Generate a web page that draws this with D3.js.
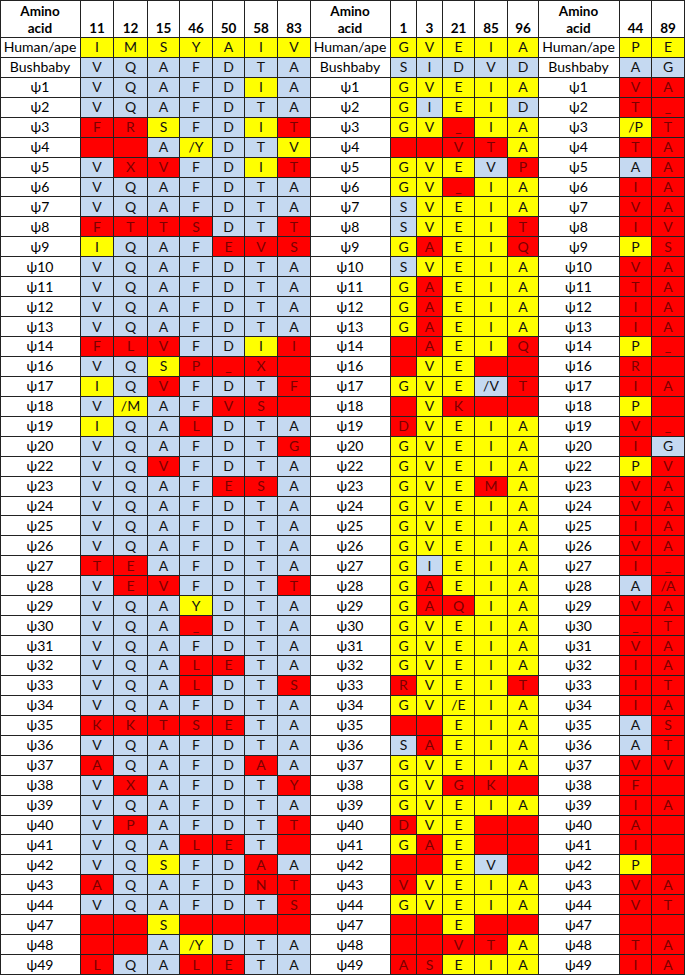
<!DOCTYPE html>
<html lang="en">
<head>
<meta charset="utf-8">
<script type="text/javascript" src="https://cdn.jsdelivr.net/npm/d3@7/dist/d3.min.js"></script>
<style>
body { margin:0; background:#fff; }
svg { display:block; }
rect.cell { stroke:#222; stroke-width:1; shape-rendering:crispEdges; }
text { font-family: Lato, "Open Sans", "DejaVu Sans", sans-serif; font-size:14px; }
text.head { font-weight:bold; font-size:13.5px; }
</style>
<script>

// column headers (amino acid positions) per block
var block1Cols = ["11","12","15","46","50","58","83"];
var block2Cols = ["1","3","21","85","96"];
var block3Cols = ["44","89"];

var rowLabels = ["Human/ape","Bushbaby",
	"ψ1","ψ2","ψ3","ψ4","ψ5","ψ6","ψ7","ψ8","ψ9","ψ10","ψ11","ψ12","ψ13","ψ14",
	"ψ16","ψ17","ψ18","ψ19","ψ20","ψ22","ψ23","ψ24","ψ25","ψ26","ψ27","ψ28","ψ29",
	"ψ30","ψ31","ψ32","ψ33","ψ34","ψ35","ψ36","ψ37","ψ38","ψ39","ψ40","ψ41","ψ42",
	"ψ43","ψ44","ψ47","ψ48","ψ49"];

// residue:state  (y = human-like, b = bushbaby-like, r = other / missing)
var block1Cells = [
	"I:y M:y S:y Y:y A:y I:y V:y",
	"V:b Q:b A:b F:b D:b T:b A:b",
	"V:b Q:b A:b F:b D:b I:y A:b",
	"V:b Q:b A:b F:b D:b T:b A:b",
	"F:r R:r S:y F:b D:b I:y T:r",
	":r :r A:b /Y:y D:b T:b V:y",
	"V:b X:r V:r F:b D:b I:y T:r",
	"V:b Q:b A:b F:b D:b T:b A:b",
	"V:b Q:b A:b F:b D:b T:b A:b",
	"F:r T:r T:r S:r D:b T:b T:r",
	"I:y Q:b A:b F:b E:r V:r S:r",
	"V:b Q:b A:b F:b D:b T:b A:b",
	"V:b Q:b A:b F:b D:b T:b A:b",
	"V:b Q:b A:b F:b D:b T:b A:b",
	"V:b Q:b A:b F:b D:b T:b A:b",
	"F:r L:r V:r F:b D:b I:y I:r",
	"V:b Q:b S:y P:r _:r X:r :r",
	"I:y Q:b V:r F:b D:b T:b F:r",
	"V:b /M:y A:b F:b V:r S:r :r",
	"I:y Q:b A:b L:r D:b T:b A:b",
	"V:b Q:b A:b F:b D:b T:b G:r",
	"V:b Q:b V:r F:b D:b T:b A:b",
	"V:b Q:b A:b F:b E:r S:r A:b",
	"V:b Q:b A:b F:b D:b T:b A:b",
	"V:b Q:b A:b F:b D:b T:b A:b",
	"V:b Q:b A:b F:b D:b T:b A:b",
	"T:r E:r A:b F:b D:b T:b A:b",
	"V:b E:r V:r F:b D:b T:b T:r",
	"V:b Q:b A:b Y:y D:b T:b A:b",
	"V:b Q:b A:b _:r D:b T:b A:b",
	"V:b Q:b A:b F:b D:b T:b A:b",
	"V:b Q:b A:b L:r E:r T:b A:b",
	"V:b Q:b A:b L:r D:b T:b S:r",
	"V:b Q:b A:b F:b D:b T:b A:b",
	"K:r K:r T:r S:r E:r T:b A:b",
	"V:b Q:b A:b F:b D:b T:b A:b",
	"A:r Q:b A:b F:b D:b A:r A:b",
	"V:b X:r A:b F:b D:b T:b Y:r",
	"V:b Q:b A:b F:b D:b T:b A:b",
	"V:b P:r A:b F:b D:b T:b T:r",
	"V:b Q:b A:b L:r E:r T:b :r",
	"V:b Q:b S:y F:b D:b A:r A:b",
	"A:r Q:b A:b F:b D:b N:r T:r",
	"V:b Q:b A:b F:b D:b T:b S:r",
	":r :r S:y :r :r :r :r",
	":r :r A:b /Y:y D:b T:b A:b",
	"L:r Q:b A:b L:r E:r T:b A:b"
];

var block2Cells = [
	"G:y V:y E:y I:y A:y",
	"S:b I:b D:b V:b D:b",
	"G:y V:y E:y I:y A:y",
	"G:y I:b E:y I:y D:b",
	"G:y V:y _:r I:y A:y",
	":r :r V:r T:r A:y",
	"G:y V:y E:y V:b P:r",
	"G:y V:y _:r I:y A:y",
	"S:b V:y E:y I:y A:y",
	"S:b V:y E:y I:y T:r",
	"G:y A:r E:y I:y Q:r",
	"S:b V:y E:y I:y A:y",
	"G:y A:r E:y I:y A:y",
	"G:y A:r E:y I:y A:y",
	"G:y A:r E:y I:y A:y",
	":r A:r E:y I:y Q:r",
	":r V:y E:y :r :r",
	"G:y V:y E:y /V:b T:r",
	":r V:y K:r :r :r",
	"D:r V:y E:y I:y A:y",
	"G:y V:y E:y I:y A:y",
	"G:y V:y E:y I:y A:y",
	"G:y V:y E:y M:r A:y",
	"G:y V:y E:y I:y A:y",
	"G:y V:y E:y I:y A:y",
	"G:y V:y E:y I:y A:y",
	"G:y I:b E:y I:y A:y",
	"G:y A:r E:y I:y A:y",
	"G:y A:r Q:r I:y A:y",
	"G:y V:y E:y I:y A:y",
	"G:y V:y E:y I:y A:y",
	"G:y V:y E:y I:y A:y",
	"R:r V:y E:y I:y T:r",
	"G:y V:y /E:y I:y A:y",
	":r :r E:y I:y A:y",
	"S:b A:r E:y I:y A:y",
	"G:y V:y E:y I:y A:y",
	"G:y V:y G:r K:r :r",
	"G:y V:y E:y I:y A:y",
	"D:r V:y E:y :r :r",
	"G:y A:r E:y :r :r",
	":r :r E:y V:b :r",
	"V:r V:y E:y I:y A:y",
	"G:y V:y E:y I:y A:y",
	":r :r E:y :r :r",
	":r :r V:r T:r A:y",
	"A:r S:r E:y I:y A:y"
];

var block3Cells = [
	"P:y E:y", "A:b G:b",
	"V:r A:r", "T:r _:r", "/P:y T:r", "T:r A:r", "A:b A:r", "I:r A:r", "V:r A:r",
	"I:r V:r", "P:y S:r", "V:r A:r", "T:r A:r", "I:r A:r", "I:r A:r", "P:y _:r",
	"R:r :r", "I:r A:r", "P:y :r", "V:r _:r", "I:r G:b", "P:y V:r", "V:r A:r",
	"V:r A:r", "I:r A:r", "V:r A:r", "I:r _:r", "A:b /A:r", "V:r A:r", "_:r T:r",
	"V:r A:r", "I:r A:r", "I:r T:r", "I:r A:r", "A:b S:r", "A:b T:r", "V:r V:r",
	"F:r :r", "I:r A:r", "A:r :r", "I:r :r", "P:y :r", "V:r A:r", "V:r T:r",
	":r :r", "T:r A:r", "I:r A:r"
];

var W = 685, H = 975, headH = 37;

// layout: block label column width + value column widths
var blocks = [
	{cols: block1Cols, cells: block1Cells, labelW: 80, colW: [33,34,32,33,32,33,33]},
	{cols: block2Cols, cells: block2Cells, labelW: 80, colW: [26,26,32,33,31]},
	{cols: block3Cols, cells: block3Cells, labelW: 81, colW: [32,33]}
];

var fill = d3.scaleOrdinal().domain(["y","b","r"]).range(["#ffff00","#c5d9f1","#ff0000"]);
var ink = d3.scaleOrdinal().domain(["y","b","r"]).range(["#111","#111","#7a0000"]);

function doChart(){
	var svg = d3.select("#chart").attr("width", W).attr("height", H);

	var y = d3.scaleBand().domain(rowLabels).range([headH, H - 1]);

	var x0 = 0;
	blocks.forEach(function(b){
		var keys = ["label"].concat(b.cols);
		var widths = [b.labelW].concat(b.colW);
		var starts = [x0].concat(Array.from(d3.cumsum(widths)).map(function(s){return x0 + s;}));
		var x = d3.scaleOrdinal().domain(keys).range(starts);
		var w = d3.scaleOrdinal().domain(keys).range(widths);
		x0 = starts[starts.length - 1];

		var g = svg.append("g");

		// header
		g.selectAll("rect.h").data(keys).enter().append("rect")
			.attr("class","cell h")
			.attr("x", function(k){return x(k) + 0.5;})
			.attr("y", 0.5)
			.attr("width", function(k){return w(k);})
			.attr("height", headH)
			.attr("fill", "#fff");
		g.append("text").attr("class","head")
			.attr("x", x("label") + w("label")/2).attr("y", 16)
			.attr("text-anchor","middle").text("Amino");
		g.append("text").attr("class","head")
			.attr("x", x("label") + w("label")/2).attr("y", 33)
			.attr("text-anchor","middle").text("acid");
		g.selectAll("text.num").data(b.cols).enter().append("text")
			.attr("class","head num")
			.attr("x", function(k){return x(k) + w(k)/2 + 0.5;})
			.attr("y", 33)
			.attr("text-anchor","middle")
			.text(function(k){return k;});

		// rows
		var rows = g.selectAll("g.row").data(rowLabels).enter().append("g")
			.attr("class","row")
			.attr("transform", function(r){return "translate(0," + y(r) + ")";});

		rows.append("rect").attr("class","cell")
			.attr("x", x("label") + 0.5).attr("y", 0.5)
			.attr("width", w("label")).attr("height", y.bandwidth())
			.attr("fill", "#fff");
		rows.append("text")
			.attr("x", x("label") + w("label")/2).attr("y", y.bandwidth()/2 + 5.5)
			.attr("text-anchor","middle")
			.text(function(r){return r;});

		var cells = rows.selectAll("g.c")
			.data(function(r, i){
				return b.cells[i].split(" ").map(function(t, j){
					var p = t.split(":");
					return {col: b.cols[j], res: p[0], st: p[1]};
				});
			})
			.enter().append("g").attr("class","c");

		cells.append("rect").attr("class","cell")
			.attr("x", function(d){return x(d.col) + 0.5;})
			.attr("y", 0.5)
			.attr("width", function(d){return w(d.col);})
			.attr("height", y.bandwidth())
			.attr("fill", function(d){return fill(d.st);});
		cells.append("text")
			.attr("x", function(d){return x(d.col) + w(d.col)/2 + 0.5;})
			.attr("y", y.bandwidth()/2 + 5.5)
			.attr("text-anchor","middle")
			.attr("fill", function(d){return ink(d.st);})
			.text(function(d){return d.res;});
	});
}
</script>
</head>
<body onload="doChart();">
<svg id="chart"></svg>
</body>
</html>
